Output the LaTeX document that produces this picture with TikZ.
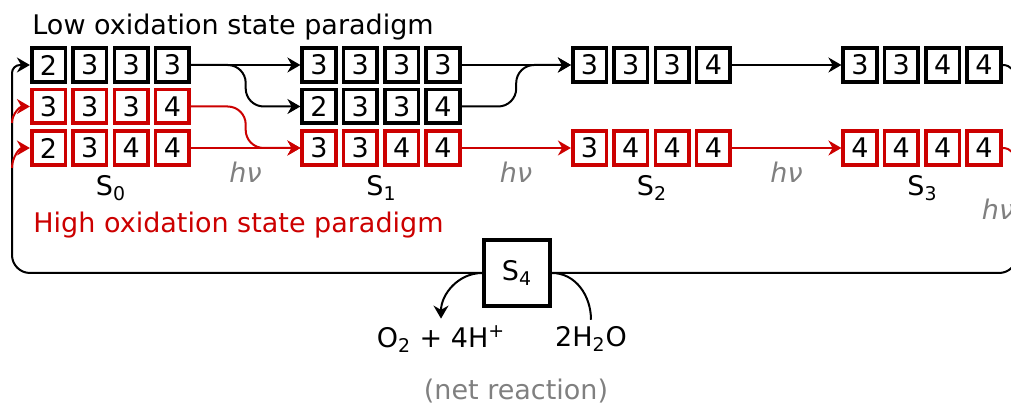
\documentclass[tikz,border=0pt]{standalone}
\usepackage{fontspec}
\setmainfont{DejaVu Sans}
\usepackage{tikz}
\usetikzlibrary{arrows.meta, positioning, calc}

\definecolor{hired}{RGB}{204,0,0}

% one S-state: four manganese boxes in a row
\newcommand{\oxstate}[5]{%
  \foreach \d [count=\i] in {#5}
    \node[#2] (#1-\i) at ({#3+(\i-1)*41.3},#4) {\d};%
}

\begin{document}
\begin{tikzpicture}[x=0.5pt, y=0.5pt, >={Stealth[length=6.5pt,width=7.5pt]},
    font=\fontsize{13.5}{16}\selectfont,
    ox/.style={draw, line width=1.8pt, minimum size=16.8pt, inner sep=0pt, fill=white},
    lo/.style={ox, draw=black},
    hi/.style={ox, draw=hired},
    link/.style={line width=1pt, rounded corners=9pt},
    photon/.style={text=gray, font=\fontsize{13.5}{16}\selectfont\itshape, anchor=base},
    slabel/.style={anchor=base}]
    \useasboundingbox (0,0) rectangle (1011,406);
    \clip (0,0) rectangle (1011,406);

    % Titel
    \node[anchor=base west, inner sep=0pt] (lowtitle) at (32,371) {Low oxidation state paradigm};
    \node[anchor=base west, inner sep=0pt, text=hired] (hightitle) at (33,173) {High oxidation state paradigm};

    % Zustaende
    \oxstate{s0a}{lo}{48.5}{341}{2,3,3,3}
    \oxstate{s0b}{hi}{48.5}{299.5}{3,3,3,4}
    \oxstate{s0c}{hi}{48.5}{258}{2,3,4,4}
    \oxstate{s1a}{lo}{319}{341}{3,3,3,3}
    \oxstate{s1b}{lo}{319}{299.5}{2,3,3,4}
    \oxstate{s1c}{hi}{319}{258}{3,3,4,4}
    \oxstate{s2a}{lo}{589.5}{341}{3,3,3,4}
    \oxstate{s2c}{hi}{589.5}{258}{3,4,4,4}
    \oxstate{s3a}{lo}{860}{341}{3,3,4,4}
    \oxstate{s3c}{hi}{860}{258}{4,4,4,4}

    \node[slabel] (s0) at (111,210) {S\textsubscript{0}};
    \node[slabel] (s1) at (381.5,210) {S\textsubscript{1}};
    \node[slabel] (s2) at (652,210) {S\textsubscript{2}};
    \node[slabel] (s3) at (922.5,210) {S\textsubscript{3}};

    \node[photon] (hv01) at (245.5,223) {hν};
    \node[photon] (hv12) at (516,223) {hν};
    \node[photon] (hv23) at (786.5,223) {hν};
    \node[photon] (hv34) at (998,186) {hν};

    % Uebergaenge
    \coordinate (m01) at ($(s0a-4.east)!0.5!(s1a-1.west)$);
    \coordinate (m12) at ($(s1a-4.east)!0.5!(s2a-1.west)$);
    \draw[link, ->] (s0a-4.east) -- (s1a-1.west);
    \draw[link, ->] (s0a-4.east) -- (m01) |- (s1b-1.west);
    \draw[link, hired, ->] (s0b-4.east) -- (m01 |- s0b-4.east) |- (s1c-1.west);
    \draw[link, hired, ->] (s0c-4.east) -- (s1c-1.west);
    \draw[link, ->] (s1a-4.east) -- (s2a-1.west);
    \draw[link, ->] (s1b-4.east) -- (m12 |- s1b-4.east) |- (s2a-1.west);
    \draw[link, hired, ->] (s1c-4.east) -- (s2c-1.west);
    \draw[link, ->] (s2a-4.east) -- (s3a-1.west);
    \draw[link, hired, ->] (s2c-4.east) -- (s3c-1.west);

    % S4 und Rueckweg
    \node[draw, line width=1.8pt, minimum size=33pt, inner sep=0pt, fill=white] (s4) at (517,133) {S\textsubscript{4}};
    \coordinate (rtop) at (1017,300);
    \coordinate (rmid) at (1017,215);
    \coordinate (lcorner) at (12,133);
    \coordinate (jb) at (12,283);
    \coordinate (jc) at (12,238);
    \draw[link] (s3a-4.east) to[out=0, in=90] (rtop);
    \draw[link, hired] (s3c-4.east) to[out=0, in=90] (rmid);
    \draw[link] (rtop) |- (s4.east);
    \draw[link, ->] (s4.west) -- (lcorner) [rounded corners=4pt] |- (s0a-1.west);
    \draw[link, hired, ->] (jb) to[out=90, in=180] (s0b-1.west);
    \draw[link, hired, ->] (jc) to[out=90, in=180] (s0c-1.west);

    % Bilanz
    \node (prod) at (441,67) {O\textsubscript{2} + 4H\textsuperscript{+}};
    \node (water) at (591,67) {2H\textsubscript{2}O};
    \node[text=gray, anchor=base] (net) at (516,6) {(net reaction)};
    \draw[link, ->] (s4.west) to[out=180, in=90] (prod.north);
    \draw[link] (s4.east) to[out=0, in=90] (water.north);
\end{tikzpicture}
\end{document}
